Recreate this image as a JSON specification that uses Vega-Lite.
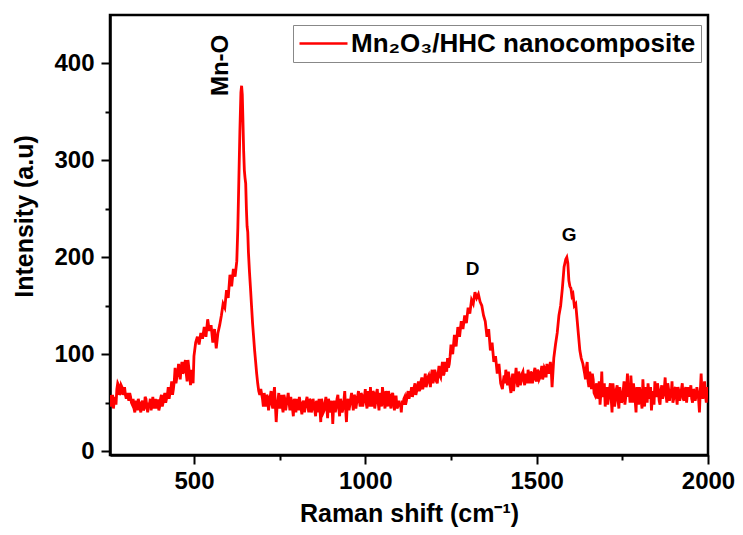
{
"$schema": "https://vega.github.io/schema/vega-lite/v6.json",
"width": 598, "height": 440,
"autosize": {"type": "none"},
"padding": {"left": 110, "top": 15, "right": 35, "bottom": 80},
"background": "white",
"config": {"view": {"stroke": "black", "strokeWidth": 2.5}, "font": "Liberation Sans"},
"datasets": {
"spectrum": [
{"shift":255,"intensity":58},{"shift":260,"intensity":50},{"shift":265,"intensity":44},{"shift":270,"intensity":56},{"shift":275,"intensity":64},{"shift":280,"intensity":68},{"shift":285,"intensity":60},{"shift":290,"intensity":66},{"shift":295,"intensity":62},{"shift":300,"intensity":58},
{"shift":305,"intensity":60},{"shift":310,"intensity":52},{"shift":315,"intensity":56},{"shift":320,"intensity":48},{"shift":325,"intensity":44},{"shift":330,"intensity":52},{"shift":335,"intensity":42},{"shift":340,"intensity":50},{"shift":345,"intensity":40},{"shift":350,"intensity":52},
{"shift":355,"intensity":44},{"shift":360,"intensity":54},{"shift":365,"intensity":40},{"shift":370,"intensity":48},{"shift":375,"intensity":42},{"shift":380,"intensity":56},{"shift":385,"intensity":48},{"shift":390,"intensity":44},{"shift":395,"intensity":52},{"shift":400,"intensity":46},
{"shift":405,"intensity":58},{"shift":410,"intensity":50},{"shift":415,"intensity":60},{"shift":420,"intensity":54},{"shift":425,"intensity":66},{"shift":430,"intensity":60},{"shift":435,"intensity":72},{"shift":440,"intensity":64},{"shift":445,"intensity":86},{"shift":450,"intensity":76},
{"shift":455,"intensity":90},{"shift":460,"intensity":74},{"shift":465,"intensity":92},{"shift":470,"intensity":82},{"shift":475,"intensity":94},{"shift":480,"intensity":72},{"shift":485,"intensity":86},{"shift":490,"intensity":68},{"shift":495,"intensity":76},{"shift":500,"intensity":98},
{"shift":505,"intensity":112},{"shift":510,"intensity":118},{"shift":515,"intensity":110},{"shift":520,"intensity":122},{"shift":525,"intensity":116},{"shift":530,"intensity":128},{"shift":535,"intensity":118},{"shift":540,"intensity":136},{"shift":545,"intensity":124},{"shift":550,"intensity":130},
{"shift":555,"intensity":112},{"shift":560,"intensity":126},{"shift":565,"intensity":106},{"shift":570,"intensity":122},{"shift":575,"intensity":130},{"shift":580,"intensity":140},{"shift":585,"intensity":152},{"shift":590,"intensity":148},{"shift":595,"intensity":166},{"shift":600,"intensity":158},
{"shift":605,"intensity":182},{"shift":610,"intensity":170},{"shift":615,"intensity":188},{"shift":620,"intensity":180},{"shift":625,"intensity":196},{"shift":628,"intensity":230},{"shift":631,"intensity":280},{"shift":634,"intensity":330},{"shift":637,"intensity":370},{"shift":639,"intensity":377},
{"shift":641,"intensity":368},{"shift":643,"intensity":340},{"shift":645,"intensity":310},{"shift":647,"intensity":290},{"shift":649,"intensity":282},{"shift":651,"intensity":276},{"shift":653,"intensity":250},{"shift":655,"intensity":232},{"shift":657,"intensity":226},{"shift":659,"intensity":205},
{"shift":662,"intensity":185},{"shift":665,"intensity":168},{"shift":668,"intensity":150},{"shift":671,"intensity":132},{"shift":674,"intensity":118},{"shift":677,"intensity":104},{"shift":680,"intensity":92},{"shift":683,"intensity":80},{"shift":686,"intensity":70},{"shift":689,"intensity":62},
{"shift":692,"intensity":58},{"shift":695,"intensity":64},{"shift":700,"intensity":54},{"shift":705,"intensity":60},{"shift":710,"intensity":46},{"shift":715,"intensity":56},{"shift":720,"intensity":50},{"shift":725,"intensity":62},{"shift":730,"intensity":44},{"shift":735,"intensity":66},
{"shift":740,"intensity":30},{"shift":745,"intensity":52},{"shift":750,"intensity":44},{"shift":755,"intensity":58},{"shift":760,"intensity":40},{"shift":765,"intensity":54},{"shift":770,"intensity":48},{"shift":775,"intensity":60},{"shift":780,"intensity":42},{"shift":785,"intensity":50},
{"shift":790,"intensity":36},{"shift":795,"intensity":48},{"shift":800,"intensity":54},{"shift":805,"intensity":42},{"shift":810,"intensity":50},{"shift":815,"intensity":38},{"shift":820,"intensity":52},{"shift":825,"intensity":46},{"shift":830,"intensity":56},{"shift":835,"intensity":40},
{"shift":840,"intensity":52},{"shift":845,"intensity":44},{"shift":850,"intensity":48},{"shift":855,"intensity":36},{"shift":860,"intensity":50},{"shift":865,"intensity":54},{"shift":870,"intensity":30},{"shift":875,"intensity":48},{"shift":880,"intensity":42},{"shift":885,"intensity":56},
{"shift":890,"intensity":34},{"shift":895,"intensity":50},{"shift":900,"intensity":44},{"shift":905,"intensity":28},{"shift":910,"intensity":52},{"shift":915,"intensity":46},{"shift":920,"intensity":58},{"shift":925,"intensity":36},{"shift":930,"intensity":50},{"shift":935,"intensity":44},
{"shift":940,"intensity":62},{"shift":945,"intensity":30},{"shift":950,"intensity":54},{"shift":955,"intensity":48},{"shift":960,"intensity":60},{"shift":965,"intensity":42},{"shift":970,"intensity":56},{"shift":975,"intensity":50},{"shift":980,"intensity":62},{"shift":985,"intensity":46},
{"shift":990,"intensity":58},{"shift":995,"intensity":52},{"shift":1000,"intensity":64},{"shift":1005,"intensity":44},{"shift":1010,"intensity":58},{"shift":1015,"intensity":66},{"shift":1020,"intensity":46},{"shift":1025,"intensity":60},{"shift":1030,"intensity":50},{"shift":1035,"intensity":64},
{"shift":1040,"intensity":42},{"shift":1045,"intensity":58},{"shift":1050,"intensity":66},{"shift":1055,"intensity":50},{"shift":1060,"intensity":62},{"shift":1065,"intensity":46},{"shift":1070,"intensity":58},{"shift":1075,"intensity":44},{"shift":1080,"intensity":60},{"shift":1085,"intensity":42},
{"shift":1090,"intensity":56},{"shift":1095,"intensity":46},{"shift":1100,"intensity":46},{"shift":1105,"intensity":40},{"shift":1110,"intensity":48},{"shift":1115,"intensity":56},{"shift":1120,"intensity":52},{"shift":1125,"intensity":62},{"shift":1130,"intensity":58},{"shift":1135,"intensity":66},
{"shift":1140,"intensity":60},{"shift":1145,"intensity":70},{"shift":1150,"intensity":62},{"shift":1155,"intensity":72},{"shift":1160,"intensity":64},{"shift":1165,"intensity":76},{"shift":1170,"intensity":68},{"shift":1175,"intensity":80},{"shift":1180,"intensity":70},{"shift":1185,"intensity":78},
{"shift":1190,"intensity":66},{"shift":1195,"intensity":84},{"shift":1200,"intensity":74},{"shift":1205,"intensity":80},{"shift":1210,"intensity":70},{"shift":1215,"intensity":88},{"shift":1220,"intensity":76},{"shift":1225,"intensity":92},{"shift":1230,"intensity":80},{"shift":1235,"intensity":86},
{"shift":1240,"intensity":96},{"shift":1245,"intensity":90},{"shift":1250,"intensity":110},{"shift":1255,"intensity":100},{"shift":1260,"intensity":120},{"shift":1265,"intensity":108},{"shift":1270,"intensity":128},{"shift":1275,"intensity":118},{"shift":1280,"intensity":134},{"shift":1285,"intensity":126},
{"shift":1290,"intensity":140},{"shift":1295,"intensity":132},{"shift":1300,"intensity":148},{"shift":1305,"intensity":142},{"shift":1310,"intensity":156},{"shift":1315,"intensity":152},{"shift":1320,"intensity":164},{"shift":1325,"intensity":158},{"shift":1330,"intensity":162},{"shift":1335,"intensity":154},
{"shift":1340,"intensity":150},{"shift":1345,"intensity":140},{"shift":1350,"intensity":134},{"shift":1355,"intensity":118},{"shift":1360,"intensity":126},{"shift":1365,"intensity":104},{"shift":1370,"intensity":112},{"shift":1375,"intensity":92},{"shift":1380,"intensity":98},{"shift":1385,"intensity":80},
{"shift":1390,"intensity":90},{"shift":1395,"intensity":70},{"shift":1400,"intensity":64},{"shift":1405,"intensity":78},{"shift":1410,"intensity":84},{"shift":1415,"intensity":68},{"shift":1420,"intensity":76},{"shift":1425,"intensity":60},{"shift":1430,"intensity":80},{"shift":1435,"intensity":70},
{"shift":1440,"intensity":86},{"shift":1445,"intensity":66},{"shift":1450,"intensity":78},{"shift":1455,"intensity":72},{"shift":1460,"intensity":82},{"shift":1465,"intensity":68},{"shift":1470,"intensity":76},{"shift":1475,"intensity":84},{"shift":1480,"intensity":70},{"shift":1485,"intensity":80},
{"shift":1490,"intensity":74},{"shift":1495,"intensity":86},{"shift":1500,"intensity":72},{"shift":1505,"intensity":82},{"shift":1510,"intensity":76},{"shift":1515,"intensity":88},{"shift":1520,"intensity":78},{"shift":1525,"intensity":84},{"shift":1530,"intensity":90},{"shift":1535,"intensity":80},
{"shift":1540,"intensity":92},{"shift":1545,"intensity":66},{"shift":1550,"intensity":96},{"shift":1555,"intensity":110},{"shift":1560,"intensity":122},{"shift":1565,"intensity":140},{"shift":1570,"intensity":150},{"shift":1575,"intensity":168},{"shift":1580,"intensity":190},{"shift":1585,"intensity":198},
{"shift":1588,"intensity":200},{"shift":1591,"intensity":194},{"shift":1594,"intensity":176},{"shift":1597,"intensity":170},{"shift":1600,"intensity":168},{"shift":1603,"intensity":160},{"shift":1606,"intensity":162},{"shift":1610,"intensity":150},{"shift":1614,"intensity":152},{"shift":1618,"intensity":136},
{"shift":1622,"intensity":120},{"shift":1626,"intensity":104},{"shift":1630,"intensity":96},{"shift":1635,"intensity":90},{"shift":1640,"intensity":80},{"shift":1645,"intensity":86},{"shift":1650,"intensity":72},{"shift":1655,"intensity":82},{"shift":1660,"intensity":64},{"shift":1665,"intensity":74},
{"shift":1670,"intensity":58},{"shift":1675,"intensity":70},{"shift":1680,"intensity":62},{"shift":1685,"intensity":48},{"shift":1690,"intensity":82},{"shift":1695,"intensity":60},{"shift":1700,"intensity":46},{"shift":1705,"intensity":66},{"shift":1710,"intensity":56},{"shift":1715,"intensity":70},
{"shift":1720,"intensity":40},{"shift":1725,"intensity":62},{"shift":1730,"intensity":54},{"shift":1735,"intensity":68},{"shift":1740,"intensity":44},{"shift":1745,"intensity":60},{"shift":1750,"intensity":52},{"shift":1755,"intensity":72},{"shift":1760,"intensity":56},{"shift":1765,"intensity":80},
{"shift":1770,"intensity":64},{"shift":1775,"intensity":78},{"shift":1780,"intensity":50},{"shift":1785,"intensity":62},{"shift":1790,"intensity":40},{"shift":1795,"intensity":58},{"shift":1800,"intensity":66},{"shift":1805,"intensity":52},{"shift":1810,"intensity":74},{"shift":1815,"intensity":46},
{"shift":1820,"intensity":60},{"shift":1825,"intensity":70},{"shift":1830,"intensity":54},{"shift":1835,"intensity":42},{"shift":1840,"intensity":62},{"shift":1845,"intensity":72},{"shift":1850,"intensity":56},{"shift":1855,"intensity":64},{"shift":1860,"intensity":48},{"shift":1865,"intensity":68},
{"shift":1870,"intensity":58},{"shift":1875,"intensity":76},{"shift":1880,"intensity":50},{"shift":1885,"intensity":64},{"shift":1890,"intensity":60},{"shift":1895,"intensity":72},{"shift":1900,"intensity":54},{"shift":1905,"intensity":66},{"shift":1910,"intensity":48},{"shift":1915,"intensity":62},
{"shift":1920,"intensity":58},{"shift":1925,"intensity":70},{"shift":1930,"intensity":52},{"shift":1935,"intensity":66},{"shift":1940,"intensity":60},{"shift":1945,"intensity":56},{"shift":1950,"intensity":68},{"shift":1955,"intensity":50},{"shift":1960,"intensity":62},{"shift":1965,"intensity":56},
{"shift":1970,"intensity":60},{"shift":1975,"intensity":40},{"shift":1980,"intensity":80},{"shift":1985,"intensity":54},{"shift":1990,"intensity":72},{"shift":1995,"intensity":50},{"shift":2000,"intensity":62},
{"shift":257.5,"intensity":46},{"shift":262.5,"intensity":58},{"shift":267.5,"intensity":52},{"shift":272.5,"intensity":48},{"shift":277.5,"intensity":70},{"shift":282.5,"intensity":58},{"shift":287.5,"intensity":68},{"shift":292.5,"intensity":58},{"shift":297.5,"intensity":66},{"shift":302.5,"intensity":54},
{"shift":307.5,"intensity":56},{"shift":312.5,"intensity":60},{"shift":317.5,"intensity":50},{"shift":322.5,"intensity":54},{"shift":327.5,"intensity":40},{"shift":332.5,"intensity":48},{"shift":337.5,"intensity":54},{"shift":342.5,"intensity":44},{"shift":347.5,"intensity":50},{"shift":352.5,"intensity":42},
{"shift":357.5,"intensity":56},{"shift":362.5,"intensity":46},{"shift":367.5,"intensity":50},{"shift":372.5,"intensity":54},{"shift":377.5,"intensity":48},{"shift":382.5,"intensity":44},{"shift":387.5,"intensity":54},{"shift":392.5,"intensity":52},{"shift":397.5,"intensity":42},{"shift":402.5,"intensity":54},
{"shift":407.5,"intensity":46},{"shift":412.5,"intensity":56},{"shift":417.5,"intensity":50},{"shift":422.5,"intensity":58},{"shift":427.5,"intensity":54},{"shift":432.5,"intensity":64},{"shift":437.5,"intensity":58},{"shift":442.5,"intensity":72},{"shift":447.5,"intensity":70},{"shift":452.5,"intensity":80},
{"shift":457.5,"intensity":84},{"shift":462.5,"intensity":86},{"shift":467.5,"intensity":80},{"shift":472.5,"intensity":90},{"shift":477.5,"intensity":80},{"shift":482.5,"intensity":94},{"shift":487.5,"intensity":78},{"shift":492.5,"intensity":84},{"shift":497.5,"intensity":70},
{"shift":702.5,"intensity":46},{"shift":707.5,"intensity":52},{"shift":712.5,"intensity":58},{"shift":717.5,"intensity":42},{"shift":722.5,"intensity":56},{"shift":727.5,"intensity":48},{"shift":732.5,"intensity":58},{"shift":737.5,"intensity":48},{"shift":742.5,"intensity":46},{"shift":747.5,"intensity":60},
{"shift":752.5,"intensity":50},{"shift":757.5,"intensity":46},{"shift":762.5,"intensity":58},{"shift":767.5,"intensity":42},{"shift":772.5,"intensity":54},{"shift":777.5,"intensity":50},{"shift":782.5,"intensity":56},{"shift":787.5,"intensity":44},{"shift":792.5,"intensity":54},{"shift":797.5,"intensity":40},
{"shift":802.5,"intensity":48},{"shift":807.5,"intensity":56},{"shift":812.5,"intensity":44},{"shift":817.5,"intensity":50},{"shift":822.5,"intensity":40},{"shift":827.5,"intensity":52},{"shift":832.5,"intensity":46},{"shift":837.5,"intensity":54},{"shift":842.5,"intensity":40},{"shift":847.5,"intensity":54},
{"shift":852.5,"intensity":42},{"shift":857.5,"intensity":52},{"shift":862.5,"intensity":40},{"shift":867.5,"intensity":44},{"shift":872.5,"intensity":54},{"shift":877.5,"intensity":40},{"shift":882.5,"intensity":50},{"shift":887.5,"intensity":46},{"shift":892.5,"intensity":54},{"shift":897.5,"intensity":40},
{"shift":902.5,"intensity":52},{"shift":907.5,"intensity":46},{"shift":912.5,"intensity":40},{"shift":917.5,"intensity":54},{"shift":922.5,"intensity":44},{"shift":927.5,"intensity":54},{"shift":932.5,"intensity":40},{"shift":937.5,"intensity":52},{"shift":942.5,"intensity":44},{"shift":947.5,"intensity":50},
{"shift":952.5,"intensity":42},{"shift":957.5,"intensity":54},{"shift":962.5,"intensity":50},{"shift":967.5,"intensity":58},{"shift":972.5,"intensity":44},{"shift":977.5,"intensity":56},{"shift":982.5,"intensity":52},{"shift":987.5,"intensity":60},{"shift":992.5,"intensity":46},{"shift":997.5,"intensity":56},
{"shift":1002.5,"intensity":50},{"shift":1007.5,"intensity":62},{"shift":1012.5,"intensity":46},{"shift":1017.5,"intensity":52},{"shift":1022.5,"intensity":62},{"shift":1027.5,"intensity":44},{"shift":1032.5,"intensity":60},{"shift":1037.5,"intensity":50},{"shift":1042.5,"intensity":60},{"shift":1047.5,"intensity":46},
{"shift":1052.5,"intensity":58},{"shift":1057.5,"intensity":44},{"shift":1062.5,"intensity":56},{"shift":1067.5,"intensity":62},{"shift":1072.5,"intensity":48},{"shift":1077.5,"intensity":58},{"shift":1082.5,"intensity":50},{"shift":1087.5,"intensity":56},{"shift":1092.5,"intensity":44},{"shift":1097.5,"intensity":52},
{"shift":1102.5,"intensity":50},{"shift":1107.5,"intensity":52},{"shift":1112.5,"intensity":54},{"shift":1117.5,"intensity":48},{"shift":1122.5,"intensity":58},{"shift":1127.5,"intensity":54},{"shift":1132.5,"intensity":60},{"shift":1137.5,"intensity":56},{"shift":1142.5,"intensity":66},{"shift":1147.5,"intensity":58},
{"shift":1152.5,"intensity":66},{"shift":1157.5,"intensity":62},{"shift":1162.5,"intensity":72},{"shift":1167.5,"intensity":64},{"shift":1172.5,"intensity":72},{"shift":1177.5,"intensity":66},{"shift":1182.5,"intensity":76},{"shift":1187.5,"intensity":72},{"shift":1192.5,"intensity":78},{"shift":1197.5,"intensity":70},
{"shift":1202.5,"intensity":84},{"shift":1207.5,"intensity":72},{"shift":1212.5,"intensity":80},{"shift":1217.5,"intensity":78},{"shift":1222.5,"intensity":84},{"shift":1227.5,"intensity":78},{"shift":1232.5,"intensity":92},{"shift":1237.5,"intensity":82},{"shift":1242.5,"intensity":86},{"shift":1247.5,"intensity":98},
{"shift":1402.5,"intensity":72},{"shift":1407.5,"intensity":70},{"shift":1412.5,"intensity":74},{"shift":1417.5,"intensity":82},{"shift":1422.5,"intensity":66},{"shift":1427.5,"intensity":72},{"shift":1432.5,"intensity":62},{"shift":1437.5,"intensity":76},{"shift":1442.5,"intensity":72},{"shift":1447.5,"intensity":82},
{"shift":1452.5,"intensity":68},{"shift":1457.5,"intensity":80},{"shift":1462.5,"intensity":74},{"shift":1467.5,"intensity":80},{"shift":1472.5,"intensity":70},{"shift":1477.5,"intensity":74},{"shift":1482.5,"intensity":82},{"shift":1487.5,"intensity":70},{"shift":1492.5,"intensity":82},{"shift":1497.5,"intensity":74},
{"shift":1502.5,"intensity":84},{"shift":1507.5,"intensity":74},{"shift":1512.5,"intensity":82},{"shift":1517.5,"intensity":74},{"shift":1522.5,"intensity":86},{"shift":1527.5,"intensity":76},{"shift":1532.5,"intensity":84},{"shift":1537.5,"intensity":86},{"shift":1542.5,"intensity":84},
{"shift":1642.5,"intensity":74},{"shift":1647.5,"intensity":92},{"shift":1652.5,"intensity":66},{"shift":1657.5,"intensity":76},{"shift":1662.5,"intensity":80},{"shift":1667.5,"intensity":60},{"shift":1672.5,"intensity":66},{"shift":1677.5,"intensity":54},{"shift":1682.5,"intensity":72},{"shift":1687.5,"intensity":60},
{"shift":1692.5,"intensity":56},{"shift":1697.5,"intensity":70},{"shift":1702.5,"intensity":58},{"shift":1707.5,"intensity":48},{"shift":1712.5,"intensity":64},{"shift":1717.5,"intensity":54},{"shift":1722.5,"intensity":70},{"shift":1727.5,"intensity":46},{"shift":1732.5,"intensity":64},{"shift":1737.5,"intensity":52},
{"shift":1742.5,"intensity":66},{"shift":1747.5,"intensity":50},{"shift":1752.5,"intensity":62},{"shift":1757.5,"intensity":48},{"shift":1762.5,"intensity":66},{"shift":1767.5,"intensity":56},{"shift":1772.5,"intensity":50},{"shift":1777.5,"intensity":62},{"shift":1782.5,"intensity":70},{"shift":1787.5,"intensity":52},
{"shift":1792.5,"intensity":66},{"shift":1797.5,"intensity":48},{"shift":1802.5,"intensity":60},{"shift":1807.5,"intensity":44},{"shift":1812.5,"intensity":58},{"shift":1817.5,"intensity":66},{"shift":1822.5,"intensity":50},{"shift":1827.5,"intensity":60},{"shift":1832.5,"intensity":66},{"shift":1837.5,"intensity":56},
{"shift":1842.5,"intensity":48},{"shift":1847.5,"intensity":60},{"shift":1852.5,"intensity":70},{"shift":1857.5,"intensity":52},{"shift":1862.5,"intensity":62},{"shift":1867.5,"intensity":54},{"shift":1872.5,"intensity":64},{"shift":1877.5,"intensity":58},{"shift":1882.5,"intensity":70},{"shift":1887.5,"intensity":52},
{"shift":1892.5,"intensity":58},{"shift":1897.5,"intensity":50},{"shift":1902.5,"intensity":64},{"shift":1907.5,"intensity":56},{"shift":1912.5,"intensity":66},{"shift":1917.5,"intensity":52},{"shift":1922.5,"intensity":64},{"shift":1927.5,"intensity":54},{"shift":1932.5,"intensity":62},{"shift":1937.5,"intensity":50},
{"shift":1942.5,"intensity":66},{"shift":1947.5,"intensity":62},{"shift":1952.5,"intensity":54},{"shift":1957.5,"intensity":64},{"shift":1962.5,"intensity":52},{"shift":1967.5,"intensity":66},{"shift":1972.5,"intensity":54},{"shift":1977.5,"intensity":62},{"shift":1982.5,"intensity":60},{"shift":1987.5,"intensity":66},
{"shift":1992.5,"intensity":58},{"shift":1997.5,"intensity":66}
]
},
"layer": [
{
"data": {"name": "spectrum"},
"mark": {"type": "line", "strokeWidth": 2.8, "clip": true},
"encoding": {
"x": {"field": "shift", "type": "quantitative",
"scale": {"domain": [255, 2000], "nice": false, "zero": false},
"axis": {"values": [500, 750, 1000, 1250, 1500, 1750, 2000], "format": "d",
"labelExpr": "datum.value % 500 === 0 ? datum.label : ''",
"title": "Raman shift (cm⁻¹)", "grid": false,
"domainColor": "black", "domainWidth": 2.5, "tickColor": "black", "tickWidth": 2,
"tickSize": {"condition": {"test": "datum.value % 500 === 0", "value": 9}, "value": 5},
"labelFont": "Liberation Sans", "labelFontSize": 24, "labelFontWeight": "bold", "labelColor": "black",
"labelPadding": 5, "labelFlush": false, "labelOverlap": false,
"titleFont": "Liberation Sans", "titleFontSize": 25, "titleFontWeight": "bold", "titleColor": "black", "titlePadding": 8}},
"y": {"field": "intensity", "type": "quantitative",
"scale": {"domain": [-4, 450], "nice": false, "zero": false},
"axis": {"values": [0, 50, 100, 150, 200, 250, 300, 350, 400], "format": "d",
"labelExpr": "datum.value % 100 === 0 ? datum.label : ''",
"title": "Intensity (a.u)", "grid": false,
"domainColor": "black", "domainWidth": 2.5, "tickColor": "black", "tickWidth": 2,
"tickSize": {"condition": {"test": "datum.value % 100 === 0", "value": 9}, "value": 5},
"labelFont": "Liberation Sans", "labelFontSize": 24, "labelFontWeight": "bold", "labelColor": "black",
"labelPadding": 7, "labelOverlap": false, "labelFlush": false,
"titleFont": "Liberation Sans", "titleFontSize": 25, "titleFontWeight": "bold", "titleColor": "black",
"titleX": -78, "titleY": 201, "titleBaseline": "alphabetic", "titleAlign": "center"}},
"color": {"datum": "Mn₂O₃/HHC nanocomposite", "type": "nominal",
"scale": {"range": ["#ff0000"]},
"legend": {"title": null, "orient": "none", "legendX": 183, "legendY": 10,
"strokeColor": "#888888", "padding": 5,
"symbolType": "M-1,0H3", "symbolSize": 576, "symbolStrokeWidth": 2.5,
"labelFont": "Liberation Sans", "labelFontSize": 26, "labelFontWeight": "bold", "labelColor": "black",
"labelOffset": 26, "labelLimit": 0}}
}
},
{
"data": {"values": [{"shift": 580, "intensity": 398, "label": "Mn-O"}]},
"mark": {"type": "text", "font": "Liberation Sans", "fontWeight": "bold", "fontSize": 24, "angle": 270, "color": "black", "align": "center", "baseline": "middle"},
"encoding": {"x": {"field": "shift", "type": "quantitative"}, "y": {"field": "intensity", "type": "quantitative"}, "text": {"field": "label"}}
},
{
"data": {"values": [{"shift": 1313, "intensity": 188, "label": "D"}, {"shift": 1595, "intensity": 223, "label": "G"}]},
"mark": {"type": "text", "font": "Liberation Sans", "fontWeight": "bold", "fontSize": 19, "color": "black", "align": "center", "baseline": "middle"},
"encoding": {"x": {"field": "shift", "type": "quantitative"}, "y": {"field": "intensity", "type": "quantitative"}, "text": {"field": "label"}}
}
]
}
